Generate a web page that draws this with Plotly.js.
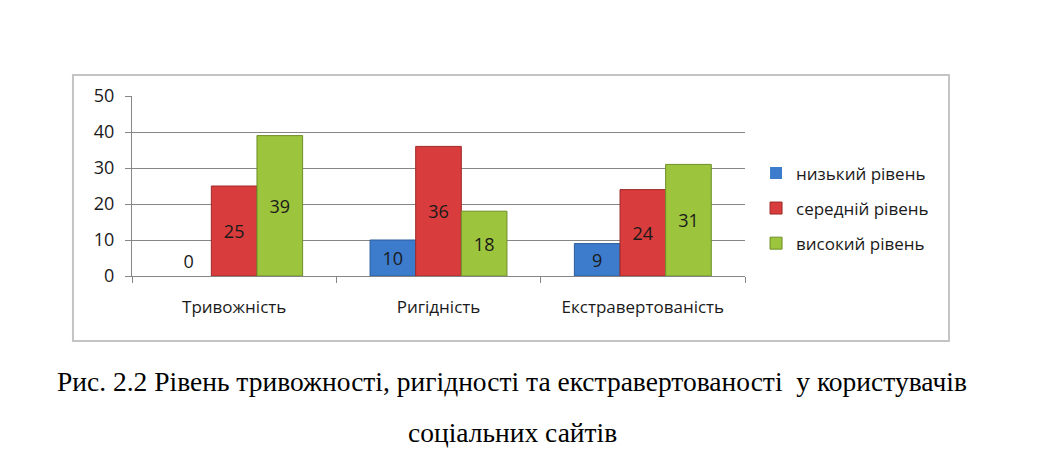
<!DOCTYPE html>
<html>
<head>
<meta charset="utf-8">
<script src="https://cdn.plot.ly/plotly-3.0.1.min.js"></script>
<style>html,body{margin:0;padding:0;background:#fff;}#chart{width:1042px;height:456px;}</style>
</head>
<body>
<div id="chart"></div>
<script>
const categories = ['Тривожність', 'Ригідність', 'Екстравертованість'];
const seriesNames = ['низький рівень', 'середній рівень', 'високий рівень'];
const lowValues = [0, 10, 9];
const midValues = [25, 36, 24];
const highValues = [39, 18, 31];
const yTicks = [0, 10, 20, 30, 40, 50];
const captionLine1 = 'Рис. 2.2 Рівень тривожності, ригідності та екстравертованості  у користувачів';
const captionLine2 = 'соціальних сайтів';

const fills = ['#3d7ccc', '#d83c3c', '#9cc43c'];
const edges = ['#2b5d9c', '#9e2a2a', '#6f8f28'];
const allValues = [lowValues, midValues, highValues];

const traces = allValues.map((vals, i) => ({
  type: 'bar',
  name: seriesNames[i],
  x: categories,
  y: vals,
  text: vals.map(String),
  textposition: vals.map(v => v === 0 ? 'outside' : 'inside'),
  insidetextanchor: 'middle',
  constraintext: 'none',
  cliponaxis: false,
  textfont: {family: 'Open Sans, sans-serif', size: 18, color: '#1a1a1a'},
  marker: {color: fills[i], line: {color: edges[i], width: vals.map(v => v === 0 ? 0 : 1)}},
  legendgroup: 'g' + i,
  hoverinfo: 'skip'
}));

const layout = {
  width: 1042,
  height: 456,
  margin: {l: 132, r: 297, t: 96, b: 180},
  paper_bgcolor: '#ffffff',
  plot_bgcolor: '#ffffff',
  barmode: 'group',
  bargap: 0.33,
  bargroupgap: 0,
  showlegend: true,
  legend: {
    x: 1.018, y: 0.67, xanchor: 'left', yanchor: 'top',
    font: {family: 'Open Sans, sans-serif', size: 17, color: '#1a1a1a'},
    traceorder: 'grouped',
    tracegroupgap: 10,
    itemwidth: 30,
    bgcolor: 'rgba(0,0,0,0)'
  },
  xaxis: {
    type: 'category',
    showline: true, linecolor: '#868686', linewidth: 1,
    ticks: 'outside', tickson: 'boundaries', ticklen: 6, tickcolor: '#868686',
    ticklabelstandoff: 16,
    tickfont: {family: 'Open Sans, sans-serif', size: 17, color: '#1a1a1a'},
    showgrid: false, zeroline: false, fixedrange: true
  },
  yaxis: {
    range: [0, 50],
    tickvals: yTicks,
    showline: true, linecolor: '#868686', linewidth: 1,
    ticks: 'outside', ticklen: 6, tickcolor: '#868686',
    ticklabelstandoff: 7,
    tickfont: {family: 'Open Sans, sans-serif', size: 18, color: '#1a1a1a'},
    showgrid: true, gridcolor: '#868686', gridwidth: 1,
    zeroline: false, fixedrange: true
  },
  shapes: [{
    type: 'rect', xref: 'paper', yref: 'paper',
    x0: -0.0963, x1: 1.3328, y0: -0.361, y1: 1.1167,
    line: {color: '#c4c4c4', width: 2}, fillcolor: 'rgba(0,0,0,0)', layer: 'below'
  }],
  annotations: [
    {xref: 'paper', yref: 'paper', x: (512 - 132) / 613, y: (276 - 381) / 180,
     xanchor: 'center', yanchor: 'middle', showarrow: false, text: captionLine1,
     font: {family: 'Liberation Serif, serif', size: 27.5, color: '#000'}},
    {xref: 'paper', yref: 'paper', x: (512 - 132) / 613, y: (276 - 432) / 180,
     xanchor: 'center', yanchor: 'middle', showarrow: false, text: captionLine2,
     font: {family: 'Liberation Serif, serif', size: 27.5, color: '#000'}}
  ]
};

Plotly.newPlot('chart', traces, layout, {displayModeBar: false, staticPlot: true});
</script>
</body>
</html>
